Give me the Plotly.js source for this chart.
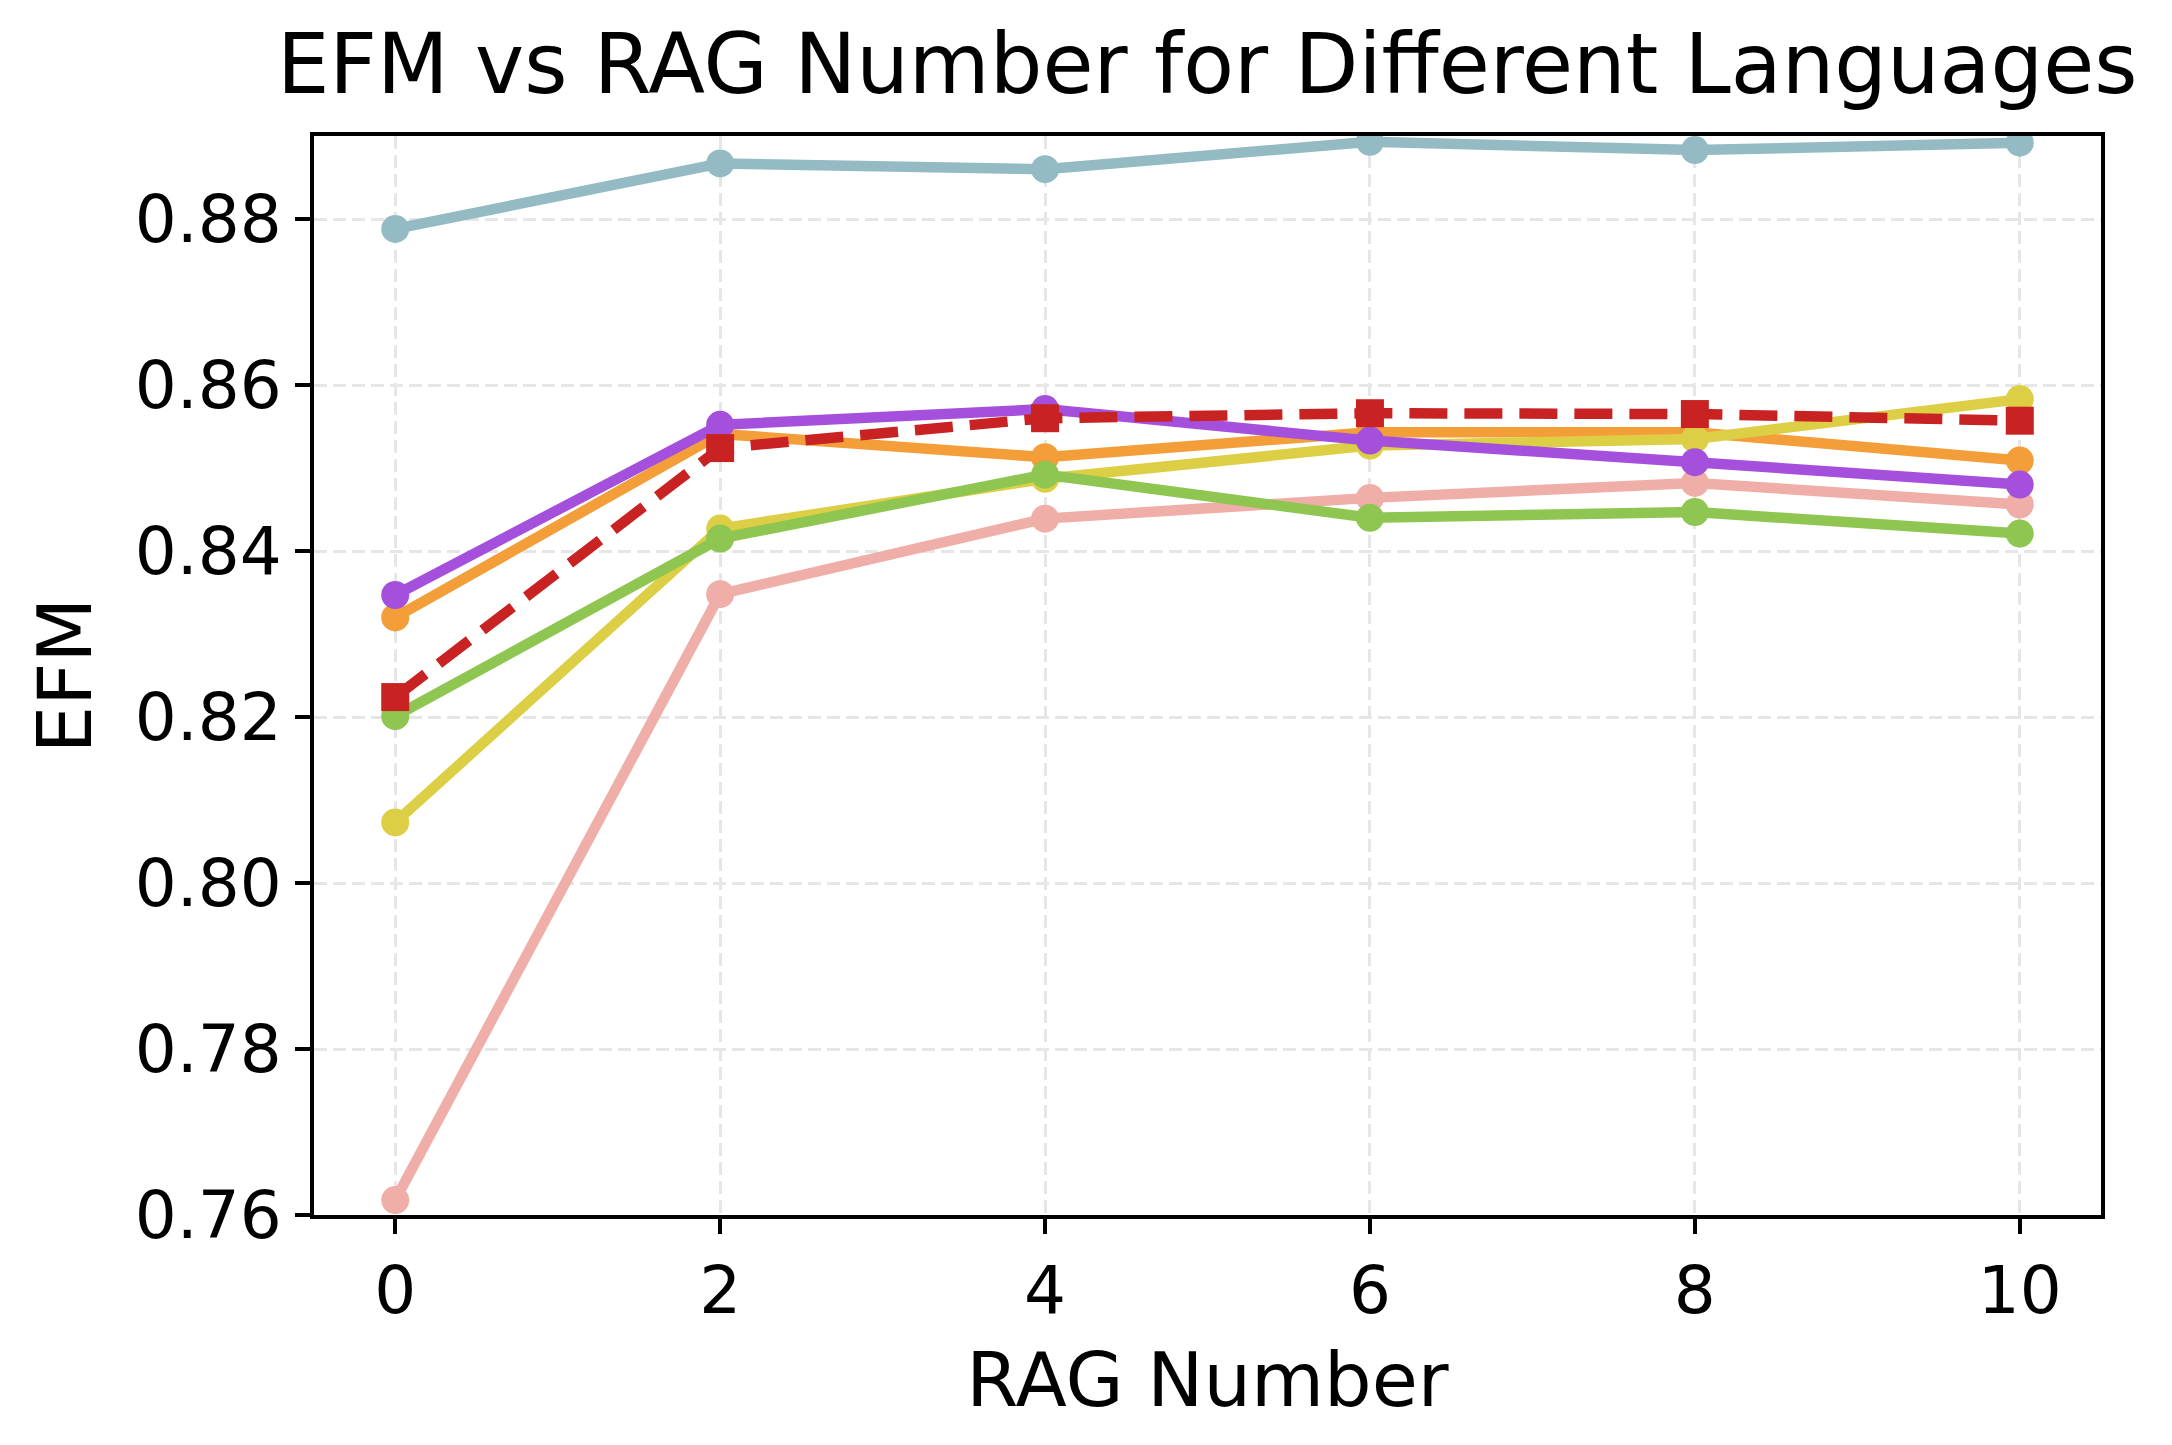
<!DOCTYPE html>
<html>
<head>
<meta charset="utf-8">
<script src="https://cdn.plot.ly/plotly-3.0.1.min.js"></script>
<style>
  html, body { margin: 0; padding: 0; background: #fff; }
  #chart { width: 2172px; height: 1445px; }
</style>
</head>
<body>
<div id="chart"></div>
<script>
// RAG numbers on the x axis
var ragNumbers = [0, 2, 4, 6, 8, 10];

// EFM values per language
var efmTeal   = [0.8788, 0.8867, 0.8860, 0.8893, 0.8883, 0.8892];
var efmPink   = [0.7618, 0.8348, 0.8439, 0.8464, 0.8482, 0.8456];
var efmOrange = [0.8320, 0.8541, 0.8513, 0.8543, 0.8543, 0.8509];
var efmYellow = [0.8073, 0.8427, 0.8487, 0.8527, 0.8535, 0.8583];
var efmGreen  = [0.8201, 0.8415, 0.8492, 0.8440, 0.8447, 0.8421];
var efmPurple = [0.8347, 0.8552, 0.8571, 0.8533, 0.8507, 0.8480];
var efmAvg    = [0.8224, 0.8524, 0.8560, 0.8566, 0.8565, 0.8557];

var font = 'DejaVu Sans';

function lineTrace(name, values, color)
{
    return {
        x: ragNumbers,
        y: values,
        name: name,
        type: 'scatter',
        mode: 'lines+markers',
        line: { color: color, width: 10.5 },
        marker: { color: color, size: 28, symbol: 'circle', line: { width: 0 } },
        cliponaxis: true
    };
}

var plotlyData = [
    lineTrace('Language 1', efmTeal, '#94bbc3'),
    lineTrace('Language 2', efmPink, '#f0aea8'),
    lineTrace('Language 3', efmOrange, '#f39e39'),
    lineTrace('Language 4', efmYellow, '#ddcf45'),
    lineTrace('Language 5', efmGreen, '#8ec651'),
    lineTrace('Language 6', efmPurple, '#a550dc'),
    {
        x: ragNumbers,
        y: efmAvg,
        name: 'Average',
        type: 'scatter',
        mode: 'lines+markers',
        line: { color: '#c82222', width: 10.5, dash: '38px,17px' },
        marker: { color: '#c82222', size: 28, symbol: 'square', line: { width: 0 } },
        cliponaxis: true
    }
];

var plotlyLayout = {
    width: 2172,
    height: 1445,
    paper_bgcolor: '#ffffff',
    plot_bgcolor: '#ffffff',
    showlegend: false,
    margin: { l: 314, r: 71, t: 136, b: 230, pad: 0 },
    font: { family: font, color: '#000000', size: 66 },
    title: {
        text: 'EFM vs RAG Number for Different Languages',
        font: { family: font, size: 83, color: '#000000' },
        x: 0.5558,
        xanchor: 'center',
        yref: 'container',
        y: 0.956,
        yanchor: 'middle'
    },
    xaxis: {
        title: { text: 'RAG Number', font: { family: font, size: 75 }, standoff: 26 },
        range: [-0.5, 10.5],
        tickmode: 'array',
        tickvals: ragNumbers,
        ticktext: ragNumbers.map(String),
        ticks: 'outside',
        ticklen: 15,
        tickwidth: 3.5,
        tickcolor: '#000000',
        tickfont: { family: font, size: 66 },
        showline: true,
        linecolor: '#000000',
        linewidth: 4,
        mirror: true,
        showgrid: true,
        gridcolor: '#e6e6e6',
        gridwidth: 3,
        griddash: '13px,6px',
        zeroline: false
    },
    yaxis: {
        title: { text: 'EFM', font: { family: font, size: 75 }, standoff: 20 },
        range: [0.76, 0.89],
        dtick: 0.02,
        tick0: 0.76,
        tickformat: '.2f',
        ticks: 'outside',
        ticklen: 15,
        tickwidth: 3.5,
        tickcolor: '#000000',
        tickfont: { family: font, size: 66 },
        showline: true,
        linecolor: '#000000',
        linewidth: 4,
        mirror: true,
        showgrid: true,
        gridcolor: '#e6e6e6',
        gridwidth: 3,
        griddash: '13px,6px',
        zeroline: false
    }
};

var plotlyConfig = {
    displayModeBar: false,
    responsive: false
};

Plotly.newPlot('chart', plotlyData, plotlyLayout, plotlyConfig);
</script>
</body>
</html>
